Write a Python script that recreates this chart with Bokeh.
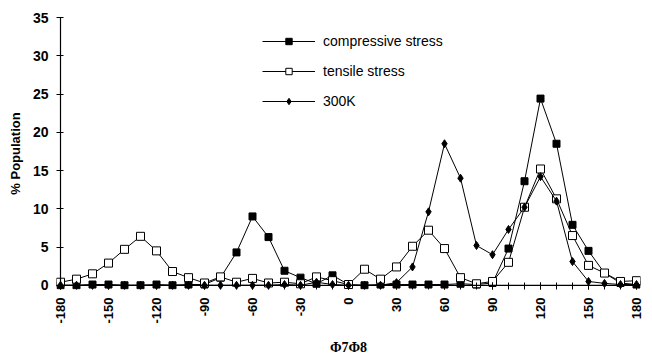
import math
from bokeh.plotting import figure
from bokeh.models import Range1d, FixedTicker, Legend, LegendItem, Span
from bokeh.embed import file_html
from bokeh.resources import INLINE

# ---- data ----
angles = [-180, -170, -160, -150, -140, -130, -120, -110, -100, -90,
          -80, -70, -60, -50, -40, -30, -20, -10, 0, 10,
          20, 30, 40, 50, 60, 70, 80, 90, 100, 110,
          120, 130, 140, 150, 160, 170, 180]
compressive = [0.0, 0.0, 0.1, 0.1, 0.0, 0.0, 0.1, 0.0, 0.1, 0.1,
               1.0, 4.3, 9.0, 6.3, 1.9, 1.0, 0.2, 1.3, 0.1, 0.0,
               0.1, 0.1, 0.1, 0.1, 0.1, 0.2, 0.1, 0.3, 4.8, 13.6,
               24.4, 18.5, 7.9, 4.5, 1.6, 0.3, 0.1]
tensile = [0.4, 0.8, 1.5, 2.9, 4.7, 6.4, 4.5, 1.8, 1.0, 0.3,
           1.1, 0.4, 0.9, 0.3, 0.4, 0.2, 1.1, 0.6, 0.1, 2.1,
           0.8, 2.4, 5.1, 7.2, 4.8, 1.0, 0.2, 0.5, 3.0, 10.2,
           15.2, 11.3, 6.5, 2.6, 1.6, 0.5, 0.6]
k300 = [0.0, 0.0, 0.0, 0.0, 0.0, 0.0, 0.0, 0.0, 0.0, 0.0,
        0.0, 0.0, 0.0, 0.0, 0.1, 0.0, 0.4, 0.1, 0.0, 0.0,
        0.0, 0.35, 2.4, 9.6, 18.5, 14.0, 5.2, 4.0, 7.3, 10.2,
        14.2, 11.0, 3.1, 0.5, 0.25, 0.1, 0.1]
x_ticks = [-180, -150, -120, -90, -60, -30, 0, 30, 60, 90, 120, 150, 180]
x_tick_labels = ["-180", "-150", "-120", "-90", "-60", "-30", "0",
                 "30", "60", "90", "120", "150", "180"]
x_minor = list(range(-180, 181, 10))
y_ticks = [0, 5, 10, 15, 20, 25, 30, 35]
series_names = ["compressive stress", "tensile stress", "300K"]
x_title = "\u03a67\u03a68"
y_title = "% Population"

p = figure(width=652, height=357, output_backend="svg", toolbar_location=None,
           x_range=Range1d(-182.5, 182.5), y_range=Range1d(-0.55, 35))
p.min_border_left = 56
p.min_border_right = 12
p.min_border_top = 17
p.min_border_bottom = 67
p.outline_line_color = None
p.xgrid.visible = False
p.ygrid.visible = False
p.background_fill_color = "white"
p.border_fill_color = "white"

FONT = "Liberation Sans"

xa = p.xaxis[0]
xa.ticker = FixedTicker(ticks=x_ticks, minor_ticks=x_minor)
xa.major_label_overrides = dict(zip(x_ticks, x_tick_labels))
xa.major_label_orientation = math.pi / 2
xa.major_label_text_font = FONT
xa.major_label_text_font_style = "bold"
xa.major_label_text_font_size = "13px"
xa.major_label_text_color = "black"
xa.major_label_standoff = 8
xa.axis_line_color = None
xa.major_tick_in = 7
xa.major_tick_out = 0
xa.minor_tick_in = 7
xa.minor_tick_out = 0
xa.major_tick_line_color = "black"
xa.minor_tick_line_color = "black"
xa.axis_label = x_title
xa.axis_label_text_font = "Liberation Serif"
xa.axis_label_text_font_style = "bold"
xa.axis_label_text_font_size = "14px"
xa.axis_label_text_color = "black"
xa.axis_label_standoff = 13

ya = p.yaxis[0]
ya.ticker = FixedTicker(ticks=y_ticks)
ya.major_label_text_font = FONT
ya.major_label_text_font_style = "bold"
ya.major_label_text_font_size = "14px"
ya.major_label_text_color = "black"
ya.major_label_standoff = 8
ya.axis_line_color = None
ya.major_tick_in = 7
ya.major_tick_out = 0
ya.minor_tick_line_color = None
ya.major_tick_line_color = "black"
ya.axis_label = y_title
ya.axis_label_text_font = FONT
ya.axis_label_text_font_style = "bold"
ya.axis_label_text_font_size = "13px"
ya.axis_label_text_color = "black"
ya.axis_label_standoff = 7

# axis lines at x = -180 and y = 0
p.add_layout(Span(location=x_ticks[0], dimension="height",
                  line_color="black", line_width=1.2))
p.add_layout(Span(location=y_ticks[0], dimension="width",
                  line_color="black", line_width=1.2))

lc = p.line(angles, compressive, line_color="black", line_width=1)
sc = p.scatter(angles, compressive, marker="square", size=7,
               fill_color="black", line_color="black")
lt = p.line(angles, tensile, line_color="black", line_width=1)
st = p.scatter(angles, tensile, marker="square", size=8,
               fill_color="white", line_color="black", line_width=1)
lk = p.line(angles, k300, line_color="black", line_width=1)
sk = p.scatter(angles, k300, marker="diamond", size=8,
               fill_color="black", line_color="black")

legend = Legend(items=[
    LegendItem(label=series_names[0], renderers=[lc, sc]),
    LegendItem(label=series_names[1], renderers=[lt, st]),
    LegendItem(label=series_names[2], renderers=[lk, sk]),
], location=(206, 180))
legend.glyph_width = 53
legend.glyph_height = 16
legend.label_height = 16
legend.spacing = 14
legend.padding = 0
legend.margin = 0
legend.label_standoff = 8
legend.label_text_font = FONT
legend.label_text_font_size = "14px"
legend.label_text_color = "black"
legend.border_line_alpha = 0
legend.background_fill_alpha = 0
p.add_layout(legend, "center")

open("out.html", "w").write(file_html(p, INLINE))
